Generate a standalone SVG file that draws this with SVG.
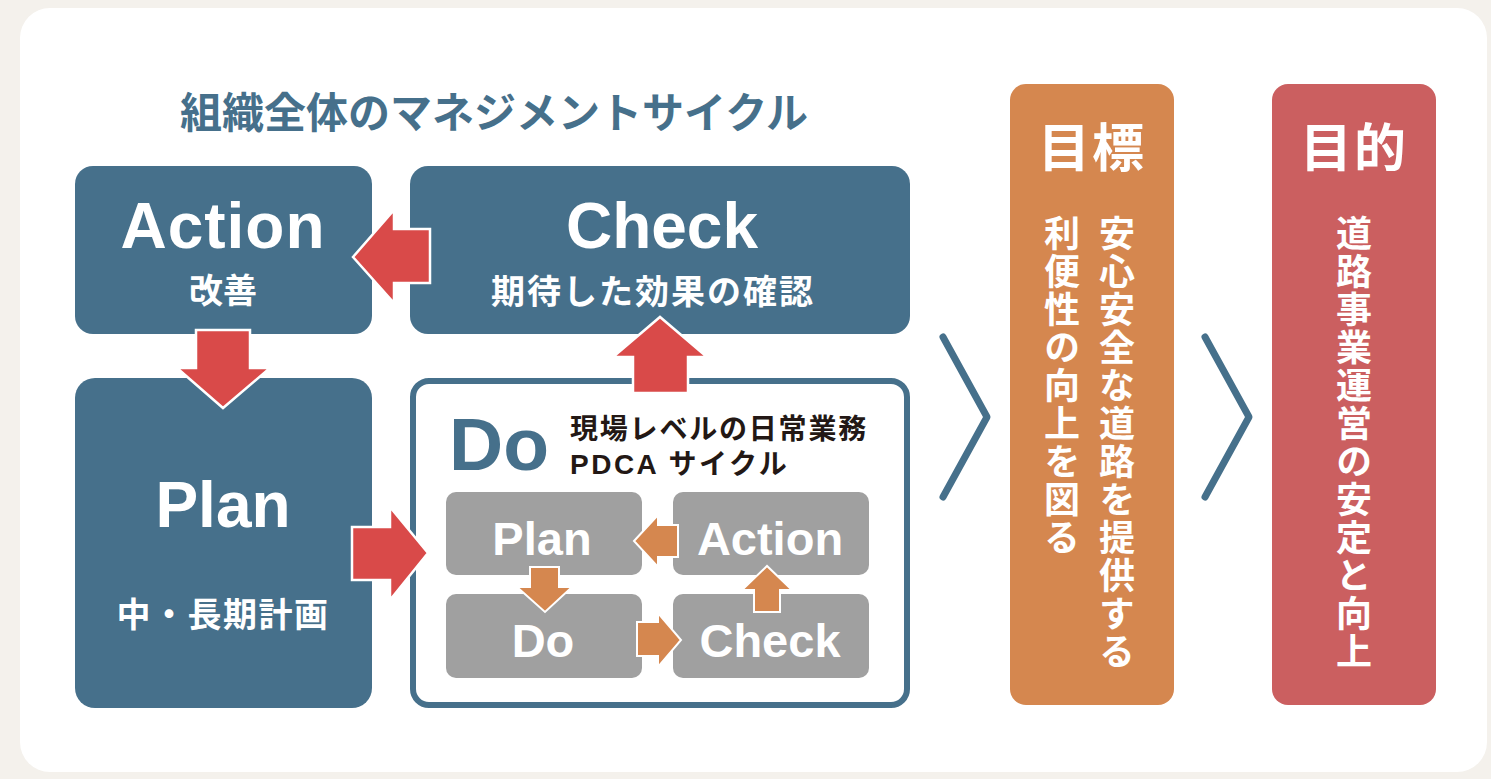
<svg xmlns="http://www.w3.org/2000/svg" width="1491" height="779" viewBox="0 0 1491 779">
  <defs>
    <style>
      .blue { fill: #46708b; }
      .gray { fill: #a0a0a0; }
      .red-arrow { fill: #d94a49; stroke: #ffffff; stroke-width: 2.5; stroke-linejoin: miter; }
      .org-arrow { fill: #d5874f; stroke: #ffffff; stroke-width: 2; stroke-linejoin: miter; }
      .lat { font-family: "Liberation Sans", "Noto Sans CJK JP", sans-serif; font-weight: 700; }
      .jp { font-family: "Noto Sans CJK JP", "Liberation Sans", sans-serif; font-weight: 700; }
      .w { fill: #ffffff; }
      .big { font-size: 64px; text-anchor: middle; }
      .sub { font-size: 34px; text-anchor: middle; }
      .small { font-size: 47px; text-anchor: middle; }
      .vert { writing-mode: vertical-rl; font-size: 36px; letter-spacing: 2px; }
      .chev { fill: none; stroke: #46708b; stroke-width: 7; stroke-linecap: round; stroke-linejoin: round; }
    </style>
  </defs>

  <rect x="0" y="0" width="1491" height="779" fill="#f4f1ec"/>
  <rect x="20" y="8" width="1467" height="764" rx="30" ry="30" fill="#ffffff"/>

  <text id="title" class="jp" x="180" y="128" font-size="42" fill="#46708b">組織全体のマネジメントサイクル</text>

  <g id="action">
    <rect class="blue" x="75" y="166" width="297" height="168" rx="18"/>
    <text class="lat w big" x="223" y="248" letter-spacing="1">Action</text>
    <text class="jp w sub" x="223" y="303">改善</text>
  </g>

  <g id="check">
    <rect class="blue" x="410" y="166" width="500" height="168" rx="18"/>
    <text class="lat w big" x="662" y="248">Check</text>
    <text class="jp w sub" x="653" y="304" letter-spacing="2">期待した効果の確認</text>
  </g>

  <g id="plan">
    <rect class="blue" x="75" y="378" width="297" height="330" rx="20"/>
    <text class="lat w big" x="223" y="527">Plan</text>
    <text class="jp w sub" x="223" y="627" letter-spacing="1.5">中・長期計画</text>
  </g>

  <g id="do">
    <rect x="413" y="381" width="494" height="324" rx="16" fill="#ffffff" stroke="#46708b" stroke-width="6"/>
    <text class="lat" x="449" y="470" font-size="75" fill="#46708b">Do</text>
    <text class="lat" x="570" y="439" font-size="28" letter-spacing="1.8" fill="#231815">現場レベルの日常業務</text>
    <text class="lat" x="570" y="474" font-size="28" letter-spacing="2.5" fill="#231815">PDCA サイクル</text>

    <g id="do-plan">
      <rect class="gray" x="446" y="492" width="196" height="83" rx="10"/>
      <text class="lat w small" x="542" y="555">Plan</text>
    </g>
    <g id="do-action">
      <rect class="gray" x="673" y="492" width="196" height="83" rx="10"/>
      <text class="lat w small" x="770" y="555">Action</text>
    </g>
    <g id="do-do">
      <rect class="gray" x="446" y="594" width="196" height="84" rx="10"/>
      <text class="lat w small" x="543" y="657">Do</text>
    </g>
    <g id="do-check">
      <rect class="gray" x="673" y="594" width="196" height="84" rx="10"/>
      <text class="lat w small" x="770" y="657">Check</text>
    </g>
  </g>

  <g id="connectors">
    <polygon class="red-arrow" points="353,257 394,210 394,229 430,229 430,283 394,283 394,303"/>
    <polygon class="red-arrow" points="196,330 250,330 250,368 270,368 223,408 177,368 196,368"/>
    <polygon class="red-arrow" points="352,527 390,527 390,507 428,553 390,600 390,580 352,580"/>
    <polygon class="red-arrow" points="633,393 633,357 613,357 660,317 707,357 688,357 688,393"/>

    <polygon class="org-arrow" points="634,541 658,515 658,525 678,525 678,557 658,557 658,567"/>
    <polygon class="org-arrow" points="530,567 559,567 559,587 572,587 545,612 517,587 530,587"/>
    <polygon class="org-arrow" points="637,622 658,622 658,613 681,640 658,667 658,656 637,656"/>
    <polygon class="org-arrow" points="754,612 754,590 742,590 767,566 792,590 780,590 780,612"/>

    <polyline class="chev" points="943,337 987,417 943,497"/>
    <polyline class="chev" points="1205,337 1249,417 1205,497"/>
  </g>

  <g id="goal">
    <rect x="1010" y="84" width="164" height="621" rx="16" fill="#d5874f"/>
    <text class="jp w" x="1092" y="167" font-size="52" text-anchor="middle" letter-spacing="2">目標</text>
    <text class="jp w vert" x="1117" y="215">安心安全な道路を提供する</text>
    <text class="jp w vert" x="1062" y="215">利便性の向上を図る</text>
  </g>

  <g id="purpose">
    <rect x="1272" y="84" width="164" height="621" rx="16" fill="#cb5f60"/>
    <text class="jp w" x="1354" y="167" font-size="52" text-anchor="middle" letter-spacing="2">目的</text>
    <text class="jp w vert" x="1354" y="215">道路事業運営の安定と向上</text>
  </g>
</svg>
